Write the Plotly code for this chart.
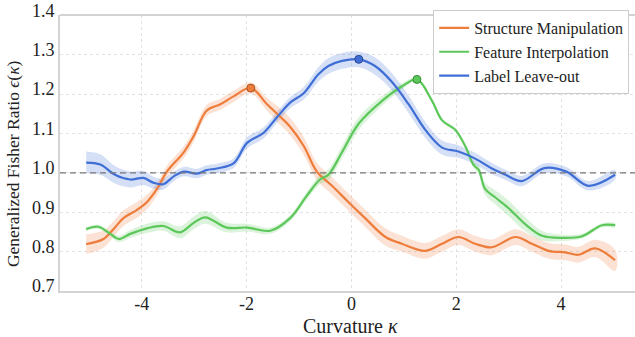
import plotly.graph_objects as go

# ---- data ----
sm_x = [-5.06, -4.73, -4.54, -4.35, -4.09, -3.9, -3.71, -3.52, -3.2, -3.01, -2.76, -2.5, -2.25, -1.92,
        -1.61, -1.42, -1.17, -0.91, -0.66, -0.37, -0.06, 0.26, 0.65, 0.96, 1.41, 1.73, 2.04, 2.36, 2.68,
        3.13, 3.44, 3.76, 4.08, 4.33, 4.65, 5.03]
sm_y = [0.819, 0.832, 0.857, 0.885, 0.906, 0.926, 0.959, 1.003, 1.052, 1.093, 1.158, 1.174, 1.194, 1.215,
        1.174, 1.150, 1.117, 1.068, 1.003, 0.967, 0.926, 0.885, 0.837, 0.820, 0.802, 0.820, 0.837, 0.820, 0.811,
        0.837, 0.820, 0.802, 0.798, 0.792, 0.808, 0.778]
sm_e = [0.025, 0.022, 0.02, 0.02, 0.02, 0.018, 0.016, 0.015, 0.015, 0.015, 0.014, 0.014, 0.014, 0.014,
        0.016, 0.02, 0.022, 0.022, 0.022, 0.022, 0.022, 0.022, 0.022, 0.02, 0.02, 0.02, 0.02, 0.02, 0.02,
        0.02, 0.02, 0.02, 0.02, 0.02, 0.022, 0.027]

fi_x = [-5.06, -4.83, -4.6, -4.44, -4.22, -3.9, -3.59, -3.27, -3.01, -2.79, -2.38, -1.99, -1.55, -1.17,
        -0.85, -0.6, -0.44, -0.18, 0.14, 0.58, 0.96, 1.25, 1.54, 1.73, 1.98, 2.17, 2.33, 2.43, 2.55, 2.74,
        3.0, 3.32, 3.64, 4.02, 4.4, 4.78, 5.03]
fi_y = [0.857, 0.863, 0.845, 0.832, 0.845, 0.859, 0.865, 0.849, 0.873, 0.887, 0.861, 0.861, 0.853, 0.885,
        0.942, 0.983, 0.995, 1.052, 1.125, 1.182, 1.219, 1.237, 1.182, 1.133, 1.109, 1.068, 1.020, 1.007, 0.959, 0.938,
        0.910, 0.869, 0.840, 0.835, 0.839, 0.867, 0.867]
fi_e = [0.005, 0.005, 0.006, 0.008, 0.01, 0.012, 0.012, 0.015, 0.016, 0.016, 0.012, 0.01, 0.008, 0.008,
        0.01, 0.012, 0.014, 0.016, 0.016, 0.012, 0.008, 0.005, 0.005, 0.005, 0.005, 0.006, 0.008, 0.012, 0.015, 0.018,
        0.02, 0.018, 0.012, 0.008, 0.006, 0.005, 0.005]

ll_x = [-5.06, -4.79, -4.51, -4.22, -3.97, -3.78, -3.59, -3.39, -3.2, -2.95, -2.76, -2.57, -2.25, -1.99,
        -1.68, -1.42, -1.17, -0.91, -0.63, -0.44, -0.18, 0.14, 0.45, 0.77, 1.09, 1.41, 1.73, 2.04, 2.36,
        2.68, 2.94, 3.25, 3.68, 4.1, 4.52, 5.03]
ll_y = [1.026, 1.021, 0.995, 0.983, 0.987, 0.975, 0.971, 0.991, 1.003, 0.998, 1.007, 1.011, 1.024, 1.076,
        1.101, 1.141, 1.178, 1.202, 1.250, 1.271, 1.284, 1.288, 1.271, 1.231, 1.174, 1.109, 1.064, 1.054, 1.036,
        1.011, 0.995, 0.979, 1.012, 1.003, 0.967, 0.995]
ll_e = [0.028, 0.026, 0.022, 0.02, 0.018, 0.015, 0.014, 0.012, 0.012, 0.012, 0.012, 0.012, 0.012, 0.014,
        0.014, 0.014, 0.014, 0.016, 0.018, 0.02, 0.02, 0.02, 0.022, 0.022, 0.022, 0.02, 0.018, 0.016, 0.015,
        0.014, 0.013, 0.013, 0.012, 0.012, 0.012, 0.012]

x_ticks = [-4, -2, 0, 2, 4]
x_ticktext = ["-4", "-2", "0", "2", "4"]
y_ticks = [0.7, 0.8, 0.9, 1.0, 1.1, 1.2, 1.3, 1.4]
y_ticktext = ["0.7", "0.8", "0.9", "1.0", "1.1", "1.2", "1.3", "1.4"]

names = ["Structure Manipulation", "Feature Interpolation", "Label Leave-out"]
colors = ["#EE7D3C", "#5CC85A", "#3F6FD6"]
fills = ["rgba(238,125,60,0.22)", "rgba(92,200,90,0.22)", "rgba(63,111,214,0.22)"]
edges = ["#A85420", "#3A8A38", "#284A95"]

series = [(sm_x, sm_y, sm_e), (fi_x, fi_y, fi_e), (ll_x, ll_y, ll_e)]

fig = go.Figure()
FONT = "Liberation Serif, Times New Roman, serif"

for (xs, ys, es), name, c, fc in zip(series, names, colors, fills):
    up = [y + e for y, e in zip(ys, es)]
    lo = [y - e for y, e in zip(ys, es)]
    fig.add_trace(go.Scatter(x=xs + xs[::-1], y=up + lo[::-1], fill="toself", fillcolor=fc,
                             line=dict(width=0, shape="spline", smoothing=1.0), mode="lines",
                             hoverinfo="skip", showlegend=False))

for (xs, ys, es), name, c, ec in zip(series, names, colors, edges):
    fig.add_trace(go.Scatter(x=xs, y=ys, mode="lines", name=name,
                             line=dict(color=c, width=2.2, shape="spline", smoothing=1.0)))

for (xs, ys, es), name, c, ec in zip(series, names, colors, edges):
    i = ys.index(max(ys))
    fig.add_trace(go.Scatter(x=[xs[i]], y=[ys[i]], mode="markers", showlegend=False,
                             marker=dict(size=8, color=c, line=dict(color=ec, width=1))))

fig.add_shape(type="line", xref="paper", yref="y", x0=0, x1=1, y0=1.0, y1=1.0,
              line=dict(color="#777777", width=1.2, dash="6px,4px"))
fig.add_shape(type="line", xref="paper", yref="paper", x0=0, x1=1, y0=1, y1=1,
              line=dict(color="#D3D3D3", width=2))

# axis titles as annotations for exact placement
fig.add_annotation(text="Curvature <i>κ</i>", xref="paper", yref="paper", x=0.505, y=-0.125,
                   xanchor="center", yanchor="middle", showarrow=False, borderpad=0,
                   font=dict(family=FONT, size=20, color="#222222"))
fig.add_annotation(text="Generalized Fisher Ratio <i>ϵ</i>(<i>κ</i>)", xref="paper", yref="paper",
                   x=-0.082, y=0.463, xanchor="center", yanchor="middle", textangle=-90,
                   showarrow=False, font=dict(family=FONT, size=17.5, color="#222222"))

fig.update_layout(
    width=635, height=337,
    margin=dict(l=60, r=0, t=4, b=46),
    paper_bgcolor="white", plot_bgcolor="white",
    font=dict(family=FONT, color="#222222"),
    legend=dict(x=0.649, y=1.018, xanchor="left", yanchor="top",
                bordercolor="#CCCCCC", borderwidth=1, bgcolor="white",
                font=dict(family=FONT, size=16), tracegroupgap=0),
    xaxis=dict(range=[-5.56, 5.41], tickvals=x_ticks, ticktext=x_ticktext,
               showgrid=True, gridcolor="#E2E2E2", griddash="dot", gridwidth=1,
               showline=True, linecolor="#D3D3D3", linewidth=2, zeroline=False,
               ticks="", tickfont=dict(size=18), ticklabelstandoff=-5, ticklabeloverflow="allow"),
    yaxis=dict(range=[0.7, 1.4005], tickvals=y_ticks, ticktext=y_ticktext,
               showgrid=True, gridcolor="#E2E2E2", griddash="dot", gridwidth=1,
               showline=True, linecolor="#D3D3D3", linewidth=2, zeroline=False,
               ticks="", tickfont=dict(size=18), ticklabelshift=-5, ticklabelstandoff=0,
               ticklabeloverflow="allow"),
)

fig.write_html("out.html", config={"displayModeBar": False},
               post_script="document.body.style.margin='0';document.body.style.overflow='hidden';")
